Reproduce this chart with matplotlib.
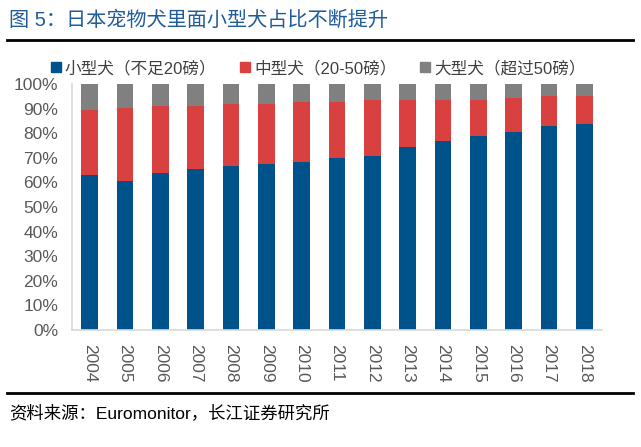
import matplotlib.pyplot as plt
from matplotlib.lines import Line2D
from matplotlib.patches import Patch

plt.rcParams['font.family'] = ['Liberation Sans', 'Noto Sans CJK SC', 'DejaVu Sans']

# Data (shares of total)
years = ['2004', '2005', '2006', '2007', '2008', '2009', '2010', '2011',
         '2012', '2013', '2014', '2015', '2016', '2017', '2018']
small = [0.630, 0.607, 0.638, 0.653, 0.667, 0.675, 0.683, 0.699,
         0.706, 0.744, 0.767, 0.790, 0.805, 0.828, 0.836]
small_plus_medium = [0.894, 0.904, 0.912, 0.912, 0.920, 0.920, 0.927, 0.927,
                     0.935, 0.935, 0.935, 0.935, 0.942, 0.951, 0.951]
medium = [t - s for s, t in zip(small, small_plus_medium)]
large = [1 - t for t in small_plus_medium]

labels = ['小型犬（不足20磅）', '中型犬（20-50磅）', '大型犬（超过50磅）']
colors = ['#00538A', '#D94141', '#808080']

fig = plt.figure(figsize=(6.41, 4.47), dpi=100)
ax = fig.add_axes([72 / 641, 1 - 330 / 447, 530 / 641, 246 / 447])

x = range(len(years))
w = 0.47
ax.bar(x, small, width=w, color=colors[0])
ax.bar(x, medium, width=w, bottom=small, color=colors[1])
ax.bar(x, large, width=w, bottom=small_plus_medium, color=colors[2])

ax.set_xlim(-0.5, len(years) - 0.5)
ax.set_ylim(0, 1)
ax.set_yticks([i / 10 for i in range(11)])
ax.set_yticklabels([f'{i * 10}%' for i in range(11)], fontsize=12.5, color='#595959')
ax.set_xticks(list(x))
ax.set_xticklabels(years, rotation=-90, fontsize=12.5, color='#595959')
ax.tick_params(axis='y', length=0, pad=10)
ax.tick_params(axis='x', length=0, pad=10)
for side in ['top', 'right']:
    ax.spines[side].set_visible(False)
for side in ['left', 'bottom']:
    ax.spines[side].set_color('#D9D9D9')
    ax.spines[side].set_linewidth(1.2)

# Legend
handles = [Patch(color=c) for c in colors]
fig.legend(handles, labels, loc='center', bbox_to_anchor=(318 / 641, 1 - 68 / 447),
           ncol=3, frameon=False, fontsize=12, handlelength=0.6, handleheight=0.6,
           handletextpad=0.25, columnspacing=1.4, labelcolor='#404040')

# Title, rules and source
fig.text(9 / 641, 1 - 20 / 447, '图 5：日本宠物犬里面小型犬占比不断提升', fontsize=14.5,
         color='#1F5C99', va='center', ha='left')
fig.add_artist(Line2D([7 / 641, 633 / 641], [1 - 40 / 447] * 2, color='black', lw=2))
fig.add_artist(Line2D([7 / 641, 633 / 641], [1 - 393 / 447] * 2, color='black', lw=2))
fig.text(9 / 641, 1 - 413 / 447, '资料来源：Euromonitor，长江证券研究所', fontsize=12.5,
         color='black', va='center', ha='left')

fig.savefig('out.png', dpi=100)
